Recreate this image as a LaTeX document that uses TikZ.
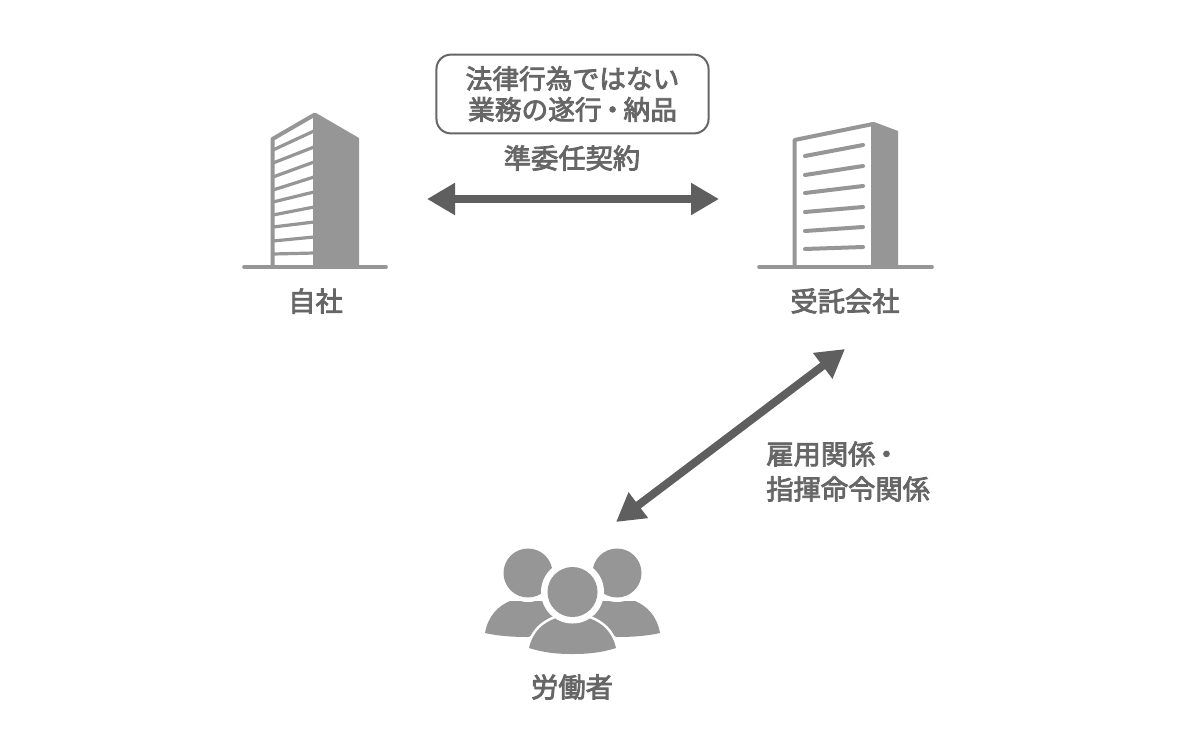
\documentclass[tikz,border=0pt]{standalone}
\usepackage{fontspec}
\setmainfont[FakeBold=3]{Noto Sans CJK JP}
\usetikzlibrary{arrows.meta}
\newcommand{\nakaten}{\kern3pt{\addfontfeature{RawFeature=+palt}・}\kern3pt}
\definecolor{txtgray}{HTML}{666666}
\definecolor{arrowgray}{HTML}{5F5F5F}
\definecolor{bldggray}{HTML}{969696}
\tikzset{
  lbl/.style={text=txtgray,inner sep=0pt,font=\fontsize{19.4}{24.9}\selectfont},
  noteBox/.style={draw=txtgray,line width=0.05cm,rounded corners=0.36cm,minimum width=6.8cm,minimum height=1.97cm,
    align=center,text=txtgray,inner sep=0pt,font=\fontsize{19}{22}\selectfont},
  bigArrow/.style={arrowgray,line width=0.2cm,{Triangle[length=0.7cm,width=0.76cm]}-{Triangle[length=0.7cm,width=0.76cm]}},
  ground/.style={bldggray,line width=0.09cm,line cap=round},
  bldgWall/.style={bldggray,line width=0.1cm,line join=round},
  floorLine/.style={bldggray,line width=0.08cm},
  winLine/.style={bldggray,line width=0.1cm,line cap=round},
}
\begin{document}
\begin{tikzpicture}[x=0.025cm,y=-0.025cm]
\useasboundingbox (0,0) rectangle (1200,750);
\fill[white] (0,0) rectangle (1200,750);

\fill[bldggray] (313,113) -- (316,113) -- (359,138) -- (359,267) -- (313,267) -- cycle;
\draw[bldgWall] (272.5,267) -- (272.5,139) -- (314,115);
\foreach \yl/\yr in {150/131,163/147,177/162,190/177,202/192,215/207,227/222,241/237,254/253}
  \draw[floorLine] (273,\yl) -- (314,\yr);
\draw[ground] (244,267) -- (386,267);
\node[lbl] (jisha) at (315.5,301) {自社};

\fill[bldggray] (871,122) -- (874,122) -- (898,131) -- (898,267) -- (871,267) -- cycle;
\draw[bldgWall] (794.5,267) -- (794.5,140) -- (873,124);
\foreach \yl/\yr in {156/145,175/166,193/186,212/207,231/227,249/247}
  \draw[winLine] (805,\yl) -- (863,\yr);
\draw[ground] (759,267) -- (932,267);
\node[lbl] (jutaku) at (845,301) {受託会社};

\node[noteBox] (note) at (572.5,94) {法律行為ではない\\業務の遂行\nakaten 納品};
\node[lbl] (junin) at (572,158) {準委任契約};
\coordinate (ctL) at (427,199);
\coordinate (ctR) at (719,199);
\draw[bigArrow] (ctL) -- (ctR);

\coordinate (empA) at (845,349);
\coordinate (empB) at (616,522);
\draw[bigArrow] (empB) -- (empA);
\node[lbl,anchor=west,align=left] (koyo) at (766,471.5) {雇用関係\nakaten\\指揮命令関係};

\foreach \cx/\sgn in {528/1,617/-1}{
  \fill[bldggray] (\cx-43*\sgn,633) .. controls (\cx-40*\sgn,616) and (\cx-30*\sgn,606) .. (\cx-18*\sgn,601)
    -- (\cx+20*\sgn,601) -- (\cx+40*\sgn,625) -- (\cx,637) .. controls (\cx-15*\sgn,637) and (\cx-30*\sgn,636) .. (\cx-43*\sgn,633) -- cycle;
  \fill[white] (\cx,573) circle (29);
  \fill[bldggray] (\cx,573) circle (24.5);
}
\path[draw=white,line width=0.13cm,postaction={fill=bldggray}] (529,648) .. controls (533,631) and (543,623) .. (556,618)
  -- (589,618) .. controls (602,623) and (612,631) .. (616,648)
  .. controls (600,653) and (587,654) .. (572.5,654) .. controls (558,654) and (545,653) .. (529,648) -- cycle;
\fill[white] (572.5,592) circle (31.5);
\fill[bldggray] (572.5,592) circle (25);
\node[lbl] (roudou) at (572,687) {労働者};
\end{tikzpicture}
\end{document}
